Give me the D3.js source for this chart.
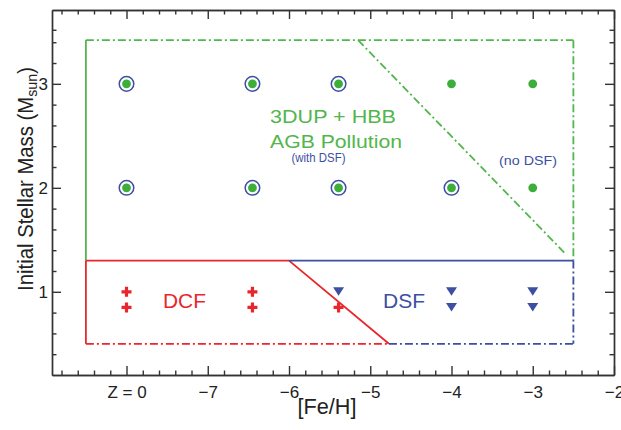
<!DOCTYPE html>
<html><head><meta charset="utf-8">
<script src="https://cdn.jsdelivr.net/npm/d3@7"></script>
<style>body{margin:0;background:#fff}svg{display:block}text{font-family:"Liberation Sans",Arial,Helvetica,sans-serif}</style>
</head><body><svg id="c" width="621" height="430"></svg>
<script>
// ---- data ----
const modelFeH = [-8, -6.45, -5.39, -4, -3];          // -8 position = Z = 0
const agbMasses = [3, 2];
const circledAt3 = [true, true, true, false, false];
const circledAt2 = [true, true, true, true, false];
const lowMasses = [1, 0.85];
const lowTypeAt1 = ["dcf", "dcf", "dsf", "dsf", "dsf"];
const lowTypeAt085 = ["dcf", "dcf", "dcf", "dsf", "dsf"];
const xMajorTicks = [-8, -7, -6, -5, -4, -3, -2];
const xTickLabels = ["Z = 0", "\u22127", "\u22126", "\u22125", "\u22124", "\u22123", "\u22122"];
const yMajorTicks = [1, 2, 3];
const yMinorTicks = [0.4, 0.6, 0.8, 1.2, 1.4, 1.6, 1.8, 2.2, 2.4, 2.6, 2.8, 3.2, 3.4, 3.52];
// region boundaries [FeH, mass]
const greenLeft = [[-8.5, 1.3], [-8.5, 3.42]];
const greenTop = [[-8.5, 3.42], [-2.5, 3.42]];
const greenRight = [[-2.5, 3.42], [-2.5, 1.3]];
const greenDiag = [[-5.15, 3.42], [-2.59, 1.36]];
const redTop = [[-8.5, 1.3], [-6, 1.3]];
const redLeft = [[-8.5, 1.3], [-8.5, 0.5]];
const redDiag = [[-6, 1.3], [-4.77, 0.5]];
const redBottom = [[-8.5, 0.5], [-4.77, 0.5]];
const blueTop = [[-6, 1.3], [-2.5, 1.3]];
const blueBottom = [[-4.77, 0.5], [-2.5, 0.5]];
const blueRight = [[-2.5, 1.3], [-2.5, 0.5]];

// ---- layout ----
const GREEN = "#52b64c", DOTGREEN = "#3cae3a", RED = "#e8262b", BLUE = "#3d4fa3", AX = "#333";
const svg = d3.select("#c");
const L = 52, R = 614, T = 10, B = 375;
const x = d3.scaleLinear().domain([-8.917, -2]).range([L, R]);
const y = d3.scaleLinear().domain([0.2, 3.71]).range([B, T]);
const xMinor = d3.range(-8.8, -2.05, 0.2).map(v => +v.toFixed(2)).filter(v => !xMajorTicks.some(m => Math.abs(m - v) < 1e-6));

// axes
function ax(gen, scale, vals, size, tx, ty) {
  const g = svg.append("g").attr("transform", `translate(${tx},${ty})`)
    .call(gen(scale).tickValues(vals).tickSizeInner(-size).tickSizeOuter(0).tickFormat(""));
  g.select(".domain").attr("stroke", AX).attr("stroke-width", 1.4);
  g.selectAll(".tick line").attr("stroke", AX).attr("stroke-width", 1.4);
  return g;
}
ax(d3.axisBottom, x, xMinor, 4.5, 0, B);
ax(d3.axisTop, x, xMinor, 4.5, 0, T);
ax(d3.axisLeft, y, yMinorTicks, 4.5, L, 0);
ax(d3.axisRight, y, yMinorTicks, 4.5, R, 0);
ax(d3.axisTop, x, xMajorTicks, 9, 0, T);
ax(d3.axisRight, y, yMajorTicks, 9, R, 0);
const gb = svg.append("g").attr("transform", `translate(0,${B})`)
  .call(d3.axisBottom(x).tickValues(xMajorTicks).tickSizeInner(-9).tickSizeOuter(0).tickPadding(11)
    .tickFormat((d, i) => xTickLabels[i]));
gb.select(".domain").attr("stroke", AX).attr("stroke-width", 1.4);
gb.selectAll(".tick line").attr("stroke", AX).attr("stroke-width", 1.4);
gb.selectAll(".tick text").attr("font-size", 17).attr("fill", "#222")
  .attr("font-family", '"Liberation Sans",Arial,sans-serif');
const gl = svg.append("g").attr("transform", `translate(${L},0)`)
  .call(d3.axisLeft(y).tickValues(yMajorTicks).tickSizeInner(-9).tickSizeOuter(0).tickPadding(4)
    .tickFormat(d3.format("d")));
gl.select(".domain").attr("stroke", AX).attr("stroke-width", 1.4);
gl.selectAll(".tick line").attr("stroke", AX).attr("stroke-width", 1.4);
gl.selectAll(".tick text").attr("font-size", 17).attr("fill", "#222")
  .attr("font-family", '"Liberation Sans",Arial,sans-serif');

// text helper: place centered text and stretch it horizontally to a target width
function fitText(t, cx, by, size, color, width, rotate) {
  const el = svg.append("text").attr("text-anchor", "middle").attr("font-size", size).attr("fill", color);
  if (Array.isArray(t)) {
    t.forEach(p => { const s = el.append("tspan").text(p.t); if (p.size) s.attr("font-size", p.size); if (p.dy) s.attr("dy", p.dy); });
  } else el.text(t);
  const w = el.node().getBBox().width;
  const sx = width ? width / w : 1;
  if (rotate) el.attr("transform", `translate(${cx},${by}) rotate(-90) scale(${sx},1)`);
  else el.attr("transform", `translate(${cx},${by}) scale(${sx},1)`);
  return el;
}

// axis titles
fitText("[Fe/H]", 327, 414, 21.5, "#222", 59);
fitText([{ t: "Initial Stellar Mass (M" }, { t: "sun", size: 15, dy: 4 }, { t: ")", dy: -4 }],
  33, 179, 21.5, "#222", 224, true);

// region lines
const line = d3.line().x(d => x(d[0])).y(d => y(d[1]));
const DD = "8,3,2,3";
function seg(pts, color, dash) {
  svg.append("path").attr("d", line(pts)).attr("fill", "none").attr("stroke", color)
    .attr("stroke-width", 1.8).attr("stroke-dasharray", dash || null);
}
seg(greenLeft, GREEN); seg(greenTop, GREEN, DD); seg(greenRight, GREEN, DD); seg(greenDiag, GREEN, DD);
seg(redTop, RED); seg(redLeft, RED); seg(redDiag, RED); seg(redBottom, RED, DD);
seg(blueTop, BLUE); seg(blueBottom, BLUE, DD); seg(blueRight, BLUE, DD);

// AGB points
agbMasses.forEach((m, k) => {
  const circ = k === 0 ? circledAt3 : circledAt2;
  modelFeH.forEach((f, i) => {
    if (circ[i]) svg.append("circle").attr("cx", x(f)).attr("cy", y(m)).attr("r", 7.3)
      .attr("fill", "none").attr("stroke", BLUE).attr("stroke-width", 1.5);
    svg.append("circle").attr("cx", x(f)).attr("cy", y(m)).attr("r", 4.4).attr("fill", DOTGREEN);
  });
});
// low-mass points
lowMasses.forEach((m, k) => {
  const types = k === 0 ? lowTypeAt1 : lowTypeAt085;
  modelFeH.forEach((f, i) => {
    const cx = x(f), cy = y(m);
    if (types[i] === "dcf") {
      svg.append("path").attr("d", `M${cx - 5},${cy}H${cx + 5}M${cx},${cy - 5}V${cy + 5}`)
        .attr("stroke", RED).attr("stroke-width", 3.2);
    } else {
      svg.append("path").attr("d", `M${cx - 5.5},${cy - 4.5}L${cx + 5.5},${cy - 4.5}L${cx},${cy + 4}Z`)
        .attr("fill", BLUE);
    }
  });
});

// labels
fitText("3DUP + HBB", 333, 123, 18, GREEN, 126);
fitText("AGB Pollution", 336, 148, 18, GREEN, 132);
fitText("(with DSF)", 318.5, 162, 13, BLUE, 54);
fitText("(no DSF)", 528, 165, 13, BLUE, 58);
fitText("DCF", 184.5, 307.5, 21, RED, 43);
fitText("DSF", 404, 307.5, 21, BLUE, 42);
</script></body></html>
